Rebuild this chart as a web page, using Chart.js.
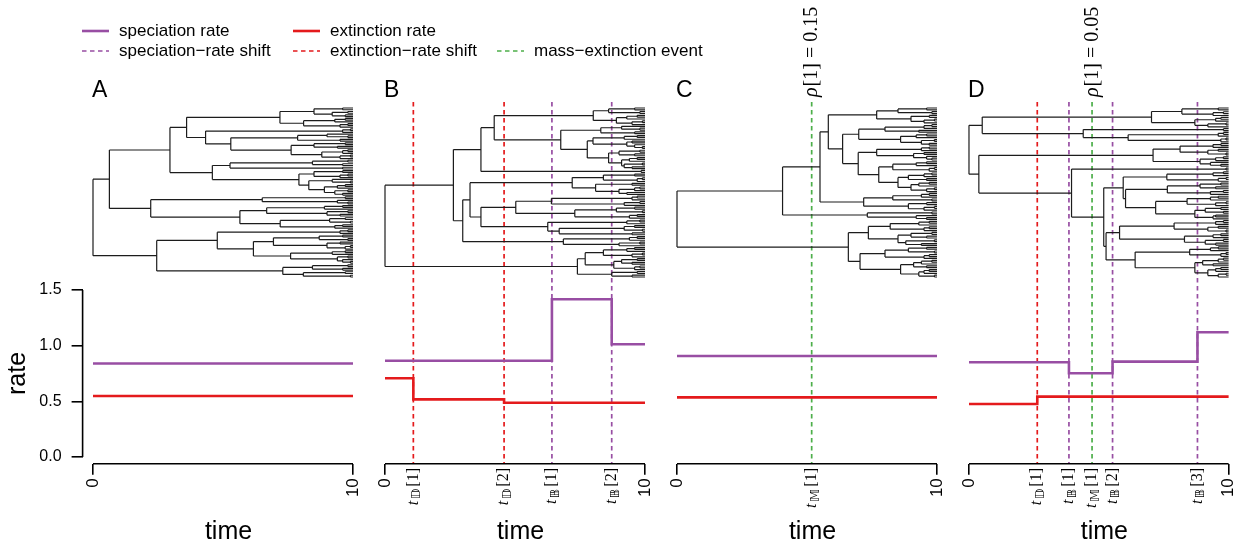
<!DOCTYPE html>
<html lang="en">
<head>
<meta charset="UTF-8">
<title>Diversification rate shifts and mass extinctions</title>
<script src="https://cdn.jsdelivr.net/npm/chart.js"></script>
<style>
  body { margin: 0; background: #fff; }
  #wrap { position: relative; width: 1239px; height: 546px; }
  #wrap canvas { position: absolute; left: 0; top: 0; }
</style>
</head>
<body>
<div id="wrap">
  <canvas id="panelA" width="1239" height="546"></canvas>
  <canvas id="panelB" width="1239" height="546"></canvas>
  <canvas id="panelC" width="1239" height="546"></canvas>
  <canvas id="panelD" width="1239" height="546"></canvas>
</div>
<script>
// rate histories: each value holds from its shift time up to the next shift
const rateTicks = [0, 0.5, 1.0, 1.5];
const timeTicks = [0, 10];

const lambdaShiftsA = [];
const lambdaA = [0.84];
const muShiftsA = [];
const muA = [0.548];

const lambdaShiftsB = [6.42, 8.72];
const lambdaB = [0.865, 1.417, 1.012];
const muShiftsB = [1.09, 4.58];
const muB = [0.707, 0.518, 0.488];

const lambdaShiftsC = [];
const lambdaC = [0.907];
const muShiftsC = [];
const muC = [0.536];
const massTimesC = [5.18];
const massRhoC = [0.15];

const lambdaShiftsD = [3.85, 5.53, 8.80];
const lambdaD = [0.851, 0.752, 0.857, 1.12];
const muShiftsD = [2.63];
const muD = [0.476, 0.542];
const massTimesD = [4.74];
const massRhoD = [0.05];

// simulated trees, newick-like: every internal node is followed by its age, tips are empty
const treeA = "(((((((,)9.6,((,)9.8,(,)9.7)9.2)8.5,(((,)9.7,)9.3,((,)9.8,)9.5)8.1)7.19,(((,)9.9,)9.6,(((,(,)9.8)9.0,(,)9.5)7.87,(((,)9.7,(,)9.4)8.5,(((,)9.8,)9.6,((,)9.9,)9.5)8.8)7.62)5.3)4.33)3.6,((((,)9.8,(,)9.6)8.44,(,)9.6)5.27,(((,)9.6,((,)9.8,)9.5)8.5,((,(,)9.9)9.2,(((,)9.7,)9.4,((,)9.8,(,)9.6)9.3)8.9)8.3)7.92)4.59)2.96,(((,)9.7,(,(,)9.8)9.4)6.51,((((,)9.6,)8.9,((,)9.8,(,)9.5)9.0)6.68,(((,)9.7,(,)9.9)9.1,((,)9.6,)9.3)7.2)5.65)2.22)0.63,((((,)9.8,)9.5,((((,)9.6,(,)9.8)8.7,((,)9.5,((,)9.9,)9.7)9.0)6.94,(((,)9.7,)9.2,((,)9.8,(,(,)9.9)9.6)9.4)7.6)6.17)4.78,(((,)9.8,(,)9.6)8.44,((,)9.7,(,)9.9)8.09)7.3)2.45)0";

const treeB = "((((((((,)9.6,(,)9.8)8.6,(((,)9.7,)9.3,((,)9.9,)9.5)8.9)8.01,(((,(,)9.8)9.1,(,)9.6)8.3,((((,)9.7,)9.2,((,)9.5,(,(,)9.9)9.6)9.3)8.0,(((,)9.8,(,)9.6)9.0,(((,)9.7,)9.4,((,)9.9,(,)9.5)9.2)9.1)8.6)7.78)6.76)4.2,(,)9.85)3.69,(((((,)9.6,((,)9.9,)9.7)8.4,((,)9.5,(((,)9.8,)9.6,(,)9.3)9.0)8.1)7.2,(((((,)9.7,)9.5,((,)9.8,)9.2)6.4,(((,)9.6,(,)9.9)8.9,((,)9.7,)9.4)7.3)5.03,(((,)9.8,)9.3,(((,)9.6,(,)9.9)9.2,(,)9.5)6.7)6.26)3.69)3.27,(((,)9.7,)9.4,((,)9.8,)9.0)6.86)2.99)2.63,(((((,)9.6,)9.3,((,)9.9,)9.5)8.4,(((,)9.7,(,)9.5)9.1,((,)9.8,)9.6)8.8)7.7,((,)9.7,(,)9.5)8.72)7.4)0";

const treeC = "((((((((,)9.6,(,)9.8)8.5,((,)9.7,((,)9.9,)9.5)9.0)7.68,(((((,)9.8,)9.5,(,)9.3)8.0,(((,)9.6,)9.2,((,)9.9,(,)9.7)9.4)8.6)6.99,((((,)9.7,)9.4,((,)9.5,(,(,)9.8)9.6)9.1)7.68,((((,)9.6,)9.2,((,)9.9,)9.7)8.3,((((,)9.8,)9.5,(,)9.6)8.9,(((,)9.7,)9.3,((,)9.9,)9.6)9.0)8.5)7.76)6.97)6.37)5.82,((((,)9.7,)9.4,(,)9.8)8.3,((,)9.6,((,)9.9,)9.5)8.9)7.18)5.5,((,)9.8,(,(,)9.6)9.2)7.32)4.06,(((((,)9.7,)9.3,((,)9.7,)9.5)8.2,(((,)9.8,(,)9.6)9.0,((,)9.9,(,)9.4)8.8)8.5)7.36,((((,)9.6,(,)9.9)8.9,((,)9.7,)9.5)8.0,((((,)9.8,)9.4,(,)9.6)9.1,(((,)9.7,)9.5,(,)9.9)9.3)8.6)7.04)6.59)0";

const treeD = "(((((,)9.6,((,)9.8,)9.4)8.2,(((,)9.7,)9.5,((,)9.9,)9.2)8.7)7.03,((,)9.8,(((,)9.8,)9.6,((,)9.9,)9.7)6.13)4.4)0.51,(((((,)9.7,)9.4,((,)9.6,(,)9.9)9.2)8.13,(((,)9.8,)9.5,(,(,)9.7)9.3)8.9)7.09,((,)9.9,(((((,)9.8,)9.4,((,)9.9,)9.6)7.62,((((,)9.7,(,)9.5)8.9,((,)9.8,)9.3)7.64,((((,)9.6,)9.3,((,)9.9,)9.5)8.4,(((,)9.7,(,)9.8)9.1,((,)9.5,)9.4)8.7)7.19)6.03)5.94,(((((,)9.8,)9.5,((,)9.6,(,)9.9)9.2)7.9,(((,)9.7,)9.4,((,)9.8,(,)9.5)9.1)8.3)5.8,((((,)9.6,)9.3,((,)9.9,)9.7)8.5,((((,)9.8,)9.6,(,)9.4)9.0,(((,)9.7,)9.5,((,)9.9,)9.6)9.2)8.7)6.4)5.28)5.19)3.95)0.38)0";

const colLambda = '#984EA3';
const colMu = '#E41A1C';
const colMass = '#4DAF4A';

const legendItems = [
  { text: 'speciation rate', color: colLambda, dashed: false, col: 0, row: 0 },
  { text: 'speciation\u2212rate shift', color: colLambda, dashed: true, col: 0, row: 1 },
  { text: 'extinction rate', color: colMu, dashed: false, col: 1, row: 0 },
  { text: 'extinction\u2212rate shift', color: colMu, dashed: true, col: 1, row: 1 },
  { text: 'mass\u2212extinction event', color: colMass, dashed: true, col: 2, row: 1 }
];

// page geometry
const areaTop = 102, areaBottom = 463.7, rateTop = 283.3;
const tipTop = 108, tipBottom = 277;
const panelLeft = [82.6, 374.6, 666.6, 958.6];
const panelWidth = 280.8;
const legendX = [82, 293, 497];
const legendY = [31, 51];
const rateLine = 2.6, shiftLine = 1.7, shiftDash = [4.5, 3.5];

Chart.defaults.font.family = '"Liberation Sans", Arial, sans-serif';
Chart.defaults.color = '#000';

function stepPoints(shifts, values) {
  const pts = [{ x: 0, y: values[0] }];
  shifts.forEach((t, i) => pts.push({ x: t, y: values[i + 1] }));
  pts.push({ x: 10, y: values[values.length - 1] });
  return pts;
}

// walk the tree string, tips are numbered top to bottom, nodes sit midway between first and last child
function treeSegments(str) {
  let pos = 0, tip = 0;
  const segs = [];
  const gap = { x: null, y: null };
  function read() {
    if (str[pos] !== '(') { tip += 1; return { t: 10, y: tip }; }
    pos++;
    const kids = [read()];
    while (str[pos] === ',') { pos++; kids.push(read()); }
    pos++;
    const start = pos;
    while (pos < str.length && /[0-9.]/.test(str[pos])) pos++;
    const t = parseFloat(str.slice(start, pos));
    const first = kids[0].y, last = kids[kids.length - 1].y;
    segs.push({ x: t, y: first }, { x: t, y: last }, gap);
    kids.forEach(k => segs.push({ x: t, y: k.y }, { x: k.t, y: k.y }, gap));
    return { t, y: (first + last) / 2 };
  }
  read();
  return { segs, nTips: tip };
}

function drawShiftLabel(ctx, x, yEnd, sub, idx) {
  const italic = 'italic 16px "Liberation Serif"';
  const upright = '16px "Liberation Serif"';
  const subFont = '13px "DejaVu Sans"';
  const br = '[' + idx + ']';
  ctx.save();
  ctx.translate(x, yEnd);
  ctx.rotate(-Math.PI / 2);
  ctx.textBaseline = 'middle';
  ctx.textAlign = 'left';
  ctx.fillStyle = '#000';
  ctx.font = italic; const wT = ctx.measureText('t').width;
  ctx.font = subFont; const wS = ctx.measureText(sub).width;
  ctx.font = upright; const wB = ctx.measureText(br).width;
  let cx = -(wT + 1.5 + wS + 2 + wB);
  ctx.font = italic; ctx.fillText('t', cx, 0); cx += wT + 1.5;
  ctx.font = subFont; ctx.fillText(sub, cx, 3.5); cx += wS + 2;
  ctx.font = upright; ctx.fillText(br, cx, 0);
  ctx.restore();
}

function drawRho(ctx, x, yStart, idx, rho) {
  ctx.save();
  ctx.translate(x, yStart);
  ctx.rotate(-Math.PI / 2);
  ctx.textBaseline = 'middle';
  ctx.textAlign = 'left';
  ctx.fillStyle = '#000';
  ctx.font = 'italic 20px "Liberation Serif"';
  ctx.fillText('\u03C1', 0, 0);
  const w = ctx.measureText('\u03C1').width + 1;
  ctx.font = '20px "Liberation Serif"';
  ctx.fillText('[' + idx + '] = ' + rho.toFixed(2), w, 0);
  ctx.restore();
}

function drawLegend(ctx) {
  ctx.save();
  ctx.font = '17px "Liberation Sans"';
  ctx.textBaseline = 'middle';
  ctx.textAlign = 'left';
  legendItems.forEach(item => {
    const x = legendX[item.col], y = legendY[item.row];
    ctx.strokeStyle = item.color;
    ctx.lineWidth = item.dashed ? shiftLine : rateLine;
    ctx.setLineDash(item.dashed ? shiftDash : []);
    ctx.beginPath();
    ctx.moveTo(x, y);
    ctx.lineTo(x + 27, y);
    ctx.stroke();
    ctx.fillStyle = '#000';
    ctx.fillText(item.text, x + 37, y);
  });
  ctx.restore();
}

function makePanel(p, k) {
  const tree = treeSegments(p.tree);
  const perTip = (tipBottom - tipTop) / (tree.nTips - 1);
  const left = panelLeft[k];
  const axisWidth = p.rateAxis ? 79 : 0;
  const shiftLines = []
    .concat(p.muShifts.map((t, i) => ({ t, color: colMu, sub: '\uD835\uDD3B', idx: i + 1 })))
    .concat(p.lambdaShifts.map((t, i) => ({ t, color: colLambda, sub: '\uD835\uDD39', idx: i + 1 })))
    .concat(p.massTimes.map((t, i) => ({ t, color: colMass, sub: '\uD835\uDD44', idx: i + 1, rho: p.massRho[i] })));

  const decor = {
    id: 'decor' + p.letter,
    beforeDatasetsDraw(chart) {
      const { ctx, chartArea, scales } = chart;
      ctx.save();
      ctx.lineWidth = shiftLine;
      ctx.setLineDash(shiftDash);
      shiftLines.forEach(s => {
        const x = scales.x.getPixelForValue(s.t);
        ctx.strokeStyle = s.color;
        ctx.beginPath();
        ctx.moveTo(x, chartArea.top);
        ctx.lineTo(x, chartArea.bottom);
        ctx.stroke();
      });
      ctx.restore();
    },
    afterDraw(chart) {
      const { ctx, chartArea, scales } = chart;
      const x0 = scales.x.getPixelForValue(0), x10 = scales.x.getPixelForValue(10);
      ctx.save();
      ctx.strokeStyle = '#000';
      ctx.lineWidth = 1.6;
      ctx.beginPath();
      ctx.moveTo(x0, chartArea.bottom);
      ctx.lineTo(x10, chartArea.bottom);
      if (p.rateAxis) {
        ctx.moveTo(chartArea.left, scales.rate.getPixelForValue(rateTicks[0]));
        ctx.lineTo(chartArea.left, scales.rate.getPixelForValue(rateTicks[rateTicks.length - 1]));
      }
      ctx.stroke();

      ctx.fillStyle = '#000';
      ctx.font = '23px "Liberation Sans"';
      ctx.textAlign = 'left';
      ctx.textBaseline = 'alphabetic';
      ctx.fillText(p.letter, x0 - 1, 97);

      ctx.font = '25px "Liberation Sans"';
      ctx.textAlign = 'center';
      ctx.fillText('time', (x0 + x10) / 2 + 5.5, 539);
      ctx.restore();

      shiftLines.forEach(s => {
        const x = scales.x.getPixelForValue(s.t);
        drawShiftLabel(ctx, x, 468, s.sub, s.idx);
        if (s.rho !== undefined) drawRho(ctx, x + 0.5, 97, s.idx, s.rho);
      });
      if (p.legend) drawLegend(ctx);
    }
  };

  return new Chart(document.getElementById(p.id), {
    type: 'scatter',
    data: {
      datasets: [
        {
          label: 'tree', data: tree.segs, xAxisID: 'x', yAxisID: 'tree',
          showLine: true, spanGaps: false, pointRadius: 0,
          borderColor: '#1c1c1c', borderWidth: 1.2
        },
        {
          label: 'extinction rate', data: stepPoints(p.muShifts, p.mu), xAxisID: 'x', yAxisID: 'rate',
          showLine: true, stepped: 'before', pointRadius: 0,
          borderColor: colMu, borderWidth: rateLine
        },
        {
          label: 'speciation rate', data: stepPoints(p.lambdaShifts, p.lambda), xAxisID: 'x', yAxisID: 'rate',
          showLine: true, stepped: 'before', pointRadius: 0,
          borderColor: colLambda, borderWidth: rateLine
        }
      ]
    },
    options: {
      responsive: false,
      devicePixelRatio: 1,
      animation: false,
      events: [],
      layout: {
        padding: {
          left: left - axisWidth,
          right: Math.max(0, 1239 - left - panelWidth),
          top: areaTop,
          bottom: 0
        }
      },
      plugins: { legend: { display: false }, tooltip: { enabled: false } },
      scales: {
        x: {
          type: 'linear', position: 'bottom', min: -0.4, max: 10.4,
          afterBuildTicks: s => { s.ticks = timeTicks.map(v => ({ value: v })); },
          afterFit: s => {
            s.height = 546 - areaBottom;
            // rotated end labels need no side room
            s.paddingLeft = 0;
            s.paddingRight = 0;
          },
          border: { display: false },
          grid: { drawOnChartArea: false, drawTicks: true, tickLength: 11, color: '#000', lineWidth: 1.6 },
          ticks: {
            autoSkip: false, minRotation: 90, maxRotation: 90, padding: 3.5,
            font: { size: 17 }, color: '#000',
            callback: v => String(v)
          }
        },
        rate: {
          type: 'linear', position: 'left', stack: 'panel', stackWeight: areaBottom - rateTop, weight: 1,
          min: -0.06, max: 1.56,
          afterBuildTicks: s => { s.ticks = rateTicks.map(v => ({ value: v })); },
          afterFit: s => { s.width = axisWidth; },
          border: { display: false },
          grid: { display: p.rateAxis, drawOnChartArea: false, drawTicks: true, tickLength: 11, color: '#000', lineWidth: 1.6 },
          ticks: {
            display: p.rateAxis, autoSkip: false, padding: 10,
            font: { size: 16 }, color: '#000',
            callback: v => v.toFixed(1)
          },
          title: { display: p.rateAxis, text: 'rate', font: { size: 25 }, color: '#000', padding: 0 }
        },
        tree: {
          type: 'linear', position: 'left', stack: 'panel', stackWeight: rateTop - areaTop, weight: 2,
          reverse: true,
          min: 1 - (tipTop - areaTop) / perTip,
          max: tree.nTips + (rateTop - tipBottom) / perTip,
          afterFit: s => { s.width = axisWidth; },
          border: { display: false },
          grid: { display: false },
          ticks: { display: false }
        }
      }
    },
    plugins: [decor]
  });
}

const panels = [
  { id: 'panelA', letter: 'A', tree: treeA, lambdaShifts: lambdaShiftsA, lambda: lambdaA, muShifts: muShiftsA, mu: muA, massTimes: [], massRho: [], rateAxis: true, legend: true },
  { id: 'panelB', letter: 'B', tree: treeB, lambdaShifts: lambdaShiftsB, lambda: lambdaB, muShifts: muShiftsB, mu: muB, massTimes: [], massRho: [], rateAxis: false, legend: false },
  { id: 'panelC', letter: 'C', tree: treeC, lambdaShifts: lambdaShiftsC, lambda: lambdaC, muShifts: muShiftsC, mu: muC, massTimes: massTimesC, massRho: massRhoC, rateAxis: false, legend: false },
  { id: 'panelD', letter: 'D', tree: treeD, lambdaShifts: lambdaShiftsD, lambda: lambdaD, muShifts: muShiftsD, mu: muD, massTimes: massTimesD, massRho: massRhoD, rateAxis: false, legend: false }
];

panels.forEach(makePanel);
</script>
</body>
</html>
